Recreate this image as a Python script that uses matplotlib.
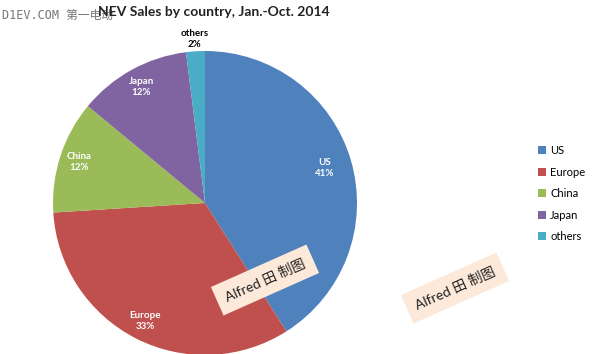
import numpy as np
import matplotlib
matplotlib.use("Agg")
import matplotlib.pyplot as plt
from matplotlib.patches import Patch

countries = ["US", "Europe", "China", "Japan", "others"]
shares = [41, 33, 12, 12, 2]
colors = ["#4F81BD", "#C0504D", "#9BBB59", "#8064A2", "#4BACC6"]
title = "NEV Sales by country, Jan.-Oct. 2014"
stamp = "Alfred 田 制图"
site_mark = "D1EV.COM 第一电动"

FONT = ["Lato", "Noto Sans CJK SC", "DejaVu Sans"]
plt.rcParams["font.family"] = FONT

fig = plt.figure(figsize=(6, 3.54), dpi=100)
fig.patch.set_facecolor("white")

# pie axes: centre ~ (205, 203) px, radius ~152 px
R = 152
ax = fig.add_axes([(205 - R) / 600, (354 - 203 - R) / 354, 2 * R / 600, 2 * R / 354])
wedges, _ = ax.pie(shares, colors=colors, startangle=90, counterclock=False,
                   radius=1.0, wedgeprops=dict(linewidth=0))
ax.set_xlim(-1, 1)
ax.set_ylim(-1, 1)
ax.set_aspect("equal")
ax.axis("off")

for w, name, val in zip(wedges, countries, shares):
    mid = np.deg2rad((w.theta1 + w.theta2) / 2)
    if val < 5:
        r, col = 1.08, "black"
    else:
        r, col = (0.82 if name == "US" else 0.87), "white"
    ax.text(r * np.cos(mid), r * np.sin(mid), f"{name}\n{val}%", ha="center", va="center",
            color=col, fontsize=7, fontweight="bold", linespacing=1.35, clip_on=False)

fig.text(2 / 600, 1 - 15 / 354, site_mark, fontsize=8.5, color="#777777", va="center",
         family=["DejaVu Sans Mono", "Noto Sans CJK SC"])
fig.text(214 / 600, 1 - 12 / 354, title, ha="center", va="center", fontsize=10,
         fontweight="bold", color="#222222")

handles = [Patch(facecolor=c, edgecolor="none") for c in colors]
fig.legend(handles, countries, loc="upper left", bbox_to_anchor=(528 / 600, 1 - 135 / 354),
           frameon=False, fontsize=8, handlelength=0.7, handleheight=0.7,
           handletextpad=0.4, labelspacing=0.95)

for x, y in [(265, 280), (455, 288)]:
    fig.text(x / 600, 1 - y / 354, stamp, ha="center", va="center", rotation=24,
             fontsize=10, color="#222222",
             bbox=dict(boxstyle="square,pad=0.65", facecolor="#FDE9D9", edgecolor="none"))

fig.savefig("out.png", dpi=100)
